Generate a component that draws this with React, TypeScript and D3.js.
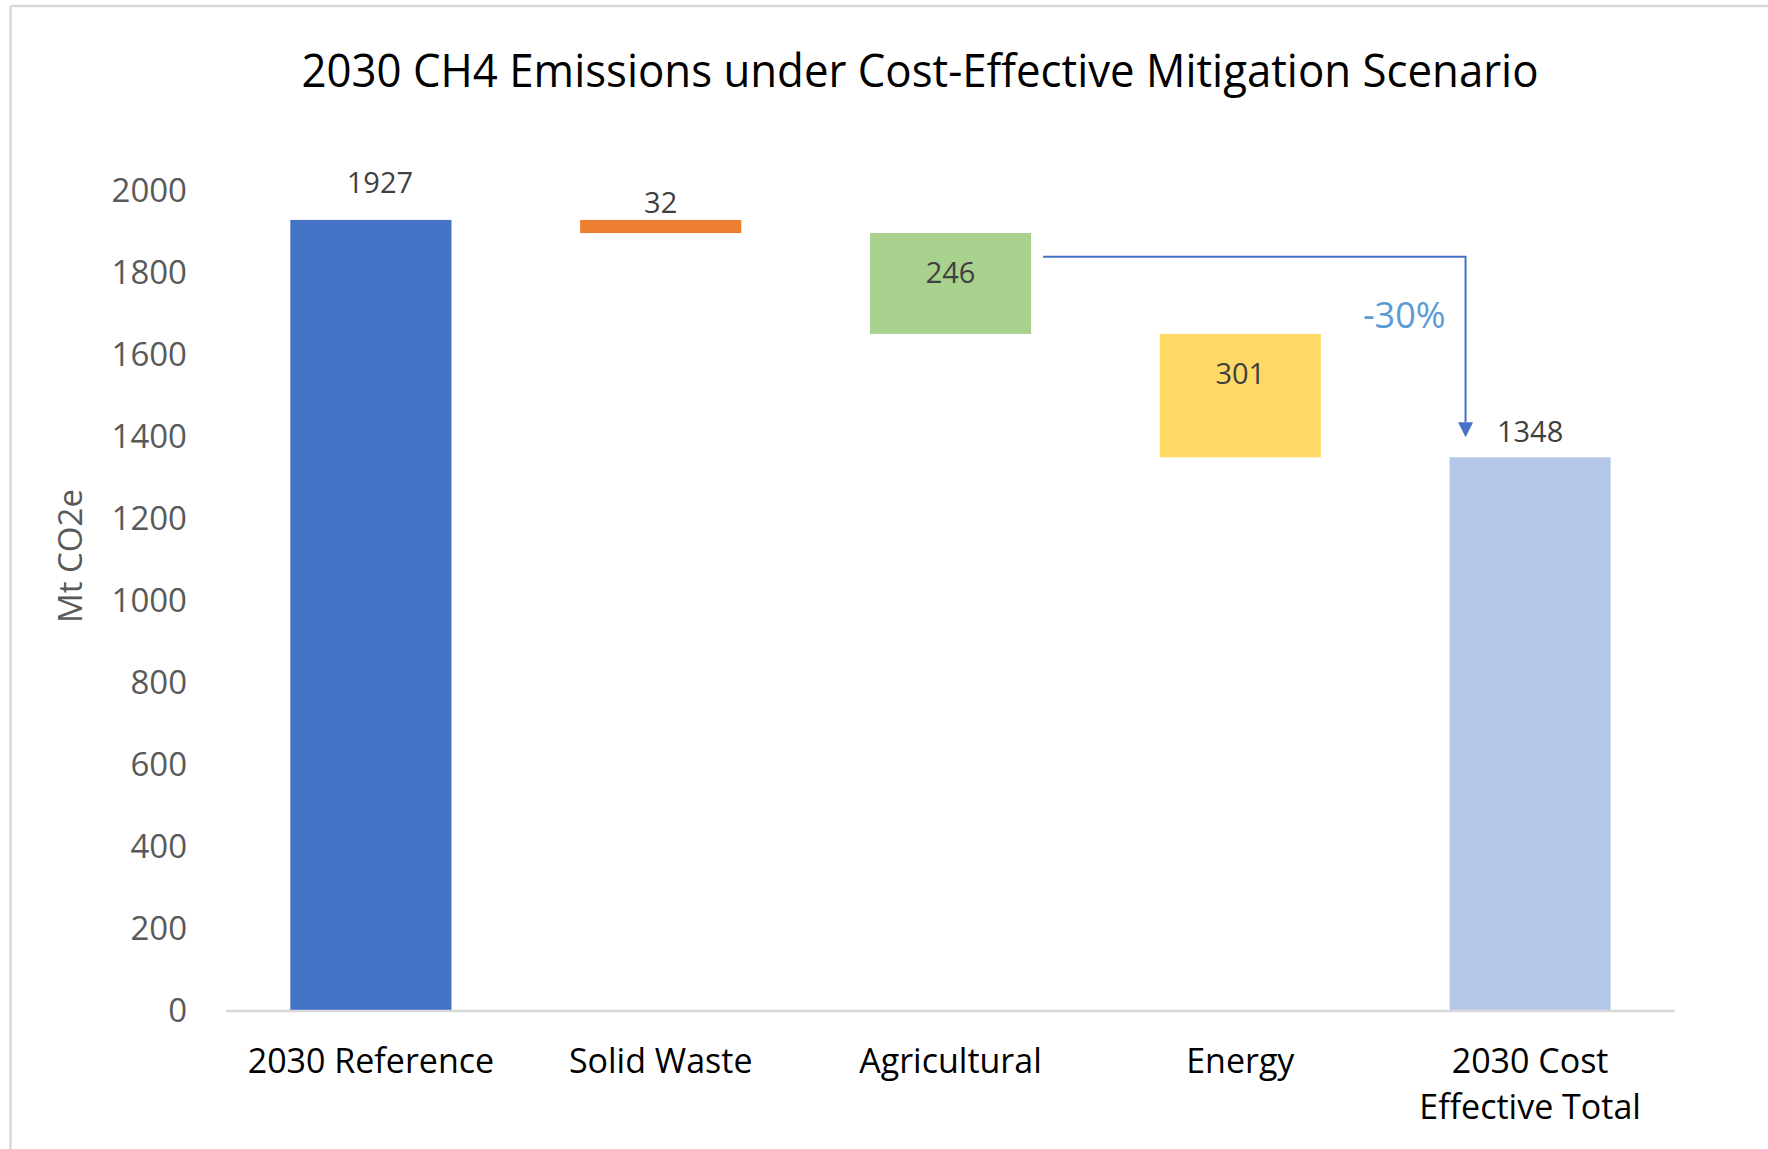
import React from "react";
import * as d3 from "d3";

const categories = ["2030 Reference", "Solid Waste", "Agricultural", "Energy", "2030 Cost Effective Total"];
const categoryLines = [["2030 Reference"], ["Solid Waste"], ["Agricultural"], ["Energy"], ["2030 Cost", "Effective Total"]];
const values = [1927, -32, -246, -301, 1348];
const isTotal = [true, false, false, false, true];
const colors = ["#4472C4", "#ED7D31", "#A9D18E", "#FFD966", "#B4C7E7"];
const yTicks = [0, 200, 400, 600, 800, 1000, 1200, 1400, 1600, 1800, 2000];
const title = "2030 CH4 Emissions under Cost-Effective Mitigation Scenario";
const yAxisTitle = "Mt CO2e";
const changeLabel = "-30%";
const arrowLevel = 1837;

const W = 1768;
const H = 1149;

export default function App() {
  const y = d3.scaleLinear().domain([0, 2000]).range([1010, 190]);
  const x = d3.scaleBand<string>().domain(categories).range([226, 1675]).paddingInner(0.444).paddingOuter(0.222);
  const bw = x.bandwidth();

  let running = 0;
  const segs = values.map((v, i) => {
    let lo: number, hi: number;
    if (isTotal[i]) {
      lo = 0; hi = v; running = v;
    } else {
      const start = running;
      const end = running + v;
      lo = Math.min(start, end); hi = Math.max(start, end);
      running = end;
    }
    return { cat: categories[i], lo, hi, v, total: isTotal[i], color: colors[i] };
  });

  const agX = (x(categories[2]) as number) + bw;
  const totX = (x(categories[4]) as number) + 16;
  const arrowY = y(arrowLevel);
  const tipY = y(values[4]) - 20;

  return (
    <svg width={W} height={H} style={{ position: "absolute", left: 0, top: 0, background: "#fff" }}
      fontFamily="'Open Sans', sans-serif">
      <rect x={0} y={0} width={W} height={H} fill="#fff" />
      <line x1={10.5} y1={6} x2={W} y2={6} stroke="#d9d9d9" strokeWidth={2.5} />
      <line x1={10.5} y1={6} x2={10.5} y2={H} stroke="#d9d9d9" strokeWidth={2.5} />

      <text x={920} y={87} textAnchor="middle" fontSize={45} fill="#000"
        textLength={1237} lengthAdjust="spacingAndGlyphs">{title}</text>

      {yTicks.map((t) => (
        <text key={t} x={187} y={y(t)} dy="0.36em" textAnchor="end" fontSize={33} fill="#595959">{t}</text>
      ))}
      <text transform={`translate(82,556) rotate(-90)`} textAnchor="middle" fontSize={33} fill="#595959">{yAxisTitle}</text>

      {segs.map((s) => (
        <rect key={s.cat} x={x(s.cat)} y={y(s.hi)} width={bw} height={y(s.lo) - y(s.hi)} fill={s.color} />
      ))}

      <line x1={226} x2={1675} y1={y(0) + 1} y2={y(0) + 1} stroke="#d9d9d9" strokeWidth={2.5} />

      {segs.map((s, i) => {
        const cx = (x(s.cat) as number) + bw / 2;
        const inside = !s.total && y(s.lo) - y(s.hi) > 60;
        const above = i === 0 ? 27 : s.total ? 15 : 7;
        const ly = inside ? y(s.hi) + 50 : y(s.hi) - above;
        return (
          <text key={"l" + s.cat} x={cx + (i === 0 ? 9 : 0)} y={ly} textAnchor="middle" fontSize={29} fill="#404040">
            {Math.abs(s.v)}
          </text>
        );
      })}

      {categoryLines.map((lines, i) => {
        const cx = (x(categories[i]) as number) + bw / 2;
        return (
          <text key={"c" + i} x={cx} y={1073} textAnchor="middle" fontSize={34} fill="#000">
            {lines.map((ln, j) => (
              <tspan key={j} x={cx} dy={j === 0 ? 0 : 46}>{ln}</tspan>
            ))}
          </text>
        );
      })}

      <path d={`M${agX + 12},${arrowY} H${totX} V${tipY - 15}`} fill="none" stroke="#4472C4" strokeWidth={2} />
      <path d={`M${totX - 7.5},${tipY - 15} L${totX + 7.5},${tipY - 15} L${totX},${tipY} Z`} fill="#4472C4" />
      <text x={totX - 20} y={328} textAnchor="end" fontSize={36} fill="#5B9BD5">{changeLabel}</text>
    </svg>
  );
}
